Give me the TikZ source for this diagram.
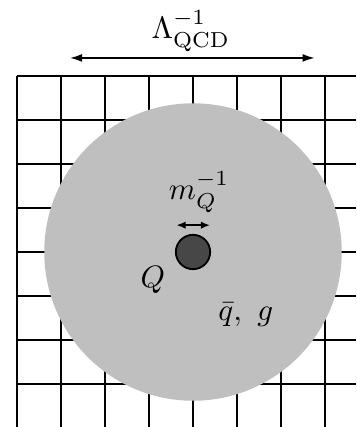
\documentclass[tikz,border=0pt]{standalone}
\usepackage{amsmath,amssymb}
\usepackage{xcolor}
\usepackage{tikz}
\usetikzlibrary{arrows.meta,positioning}

\begin{document}
\begin{tikzpicture}[
    x=0.5cm, y=0.5cm,
    lattice/.style={line width=0.6pt, black, step=0.5cm},
    cloud/.style={circle, fill=black!25, inner sep=0pt, minimum size=3.38cm},
    quark/.style={circle, draw=black, line width=0.6pt, fill=black!72, inner sep=0pt, minimum size=0.39cm},
    scalebar/.style={<->, line width=0.6pt},
    >={Latex[length=4pt,width=2.6pt]}
]
    \useasboundingbox (-4.386,-3.977) rectangle (3.705,5.727);

    % lattice
    \begin{scope}
        \clip (-4.386,-3.977) rectangle (3.705,5.727);
        \draw[lattice] (-4,-3.99) grid (3.71,4);
    \end{scope}

    % light degrees of freedom
    \node[cloud] (cloud) at (0,0) {};

    % heavy quark
    \node[quark] (Q) at (0,0) {};
    \coordinate (mL) at (-0.38,0.61);
    \coordinate (mR) at (0.39,0.61);
    \draw[scalebar, >={Latex[length=3pt,width=2.4pt]}] (mL) -- (mR);
    \node (mQ) at (0.14,1.36) {$m_Q^{-1}$};

    \node (Qlab) at (-0.91,-0.64) {$Q$};
    \node (light) at (1.2,-1.43) {$\bar{q},\ g$};

    % hadronic scale
    \coordinate (LL) at (-2.8,4.41);
    \coordinate (LR) at (2.77,4.41);
    \draw[scalebar] (LL) -- (LR);
    \node (lam) at (-0.05,5.02) {$\Lambda_{\mathrm{QCD}}^{-1}$};
\end{tikzpicture}
\end{document}
